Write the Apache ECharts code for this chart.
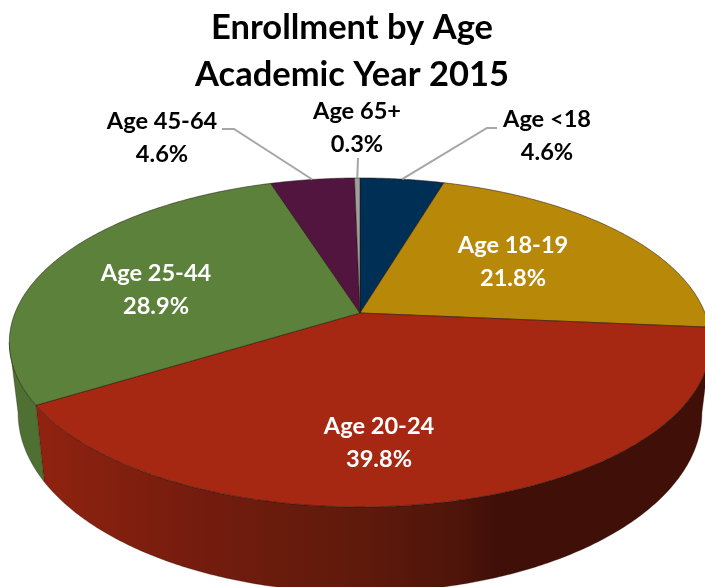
<!DOCTYPE html>
<html>
<head>
<meta charset="utf-8">
<style>html,body{margin:0;padding:0;background:#fff}#c{width:705px;height:587px}</style>
<script src="https://cdn.jsdelivr.net/npm/echarts@6/dist/echarts.min.js"></script>
</head>
<body>
<div id="c"></div>
<script>
const titleLines = ['Enrollment by Age', 'Academic Year 2015'];
const categories = ['Age <18', 'Age 18-19', 'Age 20-24', 'Age 25-44', 'Age 45-64', 'Age 65+'];
const shares = [4.6, 21.8, 39.8, 28.9, 4.6, 0.3];
const valueLabels = ['4.6%', '21.8%', '39.8%', '28.9%', '4.6%', '0.3%'];
const topColors = ['#002f56', '#b88808', '#a62813', '#5b813b', '#52153f', '#a0a0a0'];

// projection of the tilted pie
const view = { cx: 360, cy: 313, R: 345, k: 159.2, p: 0.179, lowerCy: 381, sx: 0.975, sy: 1.09 };
const labelPlaces = [
  { x: 547, y: 136, color: '#000', leader: [[497, 128], [487, 128]] },
  { x: 513, y: 262, color: '#fff' },
  { x: 379, y: 443, color: '#fff' },
  { x: 156, y: 290, color: '#fff' },
  { x: 162, y: 138, color: '#000', leader: [[222, 129], [234, 129]] },
  { x: 357, y: 128, color: '#000', leader: [[358, 158]] }
];
const sideShades = {
  2: [[0, '#90230f'], [0.245, '#741c0e'], [0.484, '#5f1a0b'], [0.634, '#4e140a'], [0.69, '#3f0f08'], [1, '#3f0f08']],
  3: [[0, '#4e7033'], [1, '#4e7033']]
};

const total = shares.reduce((a, b) => a + b, 0);
function theta(cum) { return cum / total * Math.PI * 2; }
function rim(t, lower) {
  const u = Math.sin(t), v = Math.cos(t), d = 1 + view.p * v;
  return lower
    ? [view.cx + view.R * view.sx * u / d, view.lowerCy - view.k * view.sy * v / d]
    : [view.cx + view.R * u / d, view.cy - view.k * v / d];
}
function arc(a, b, lower) {
  const n = Math.max(2, Math.ceil((b - a) / 0.01));
  const out = [];
  for (let i = 0; i <= n; i++) out.push(rim(a + (b - a) * i / n, lower));
  return out;
}
// angles at which the rim is widest: the wall's silhouette starts and ends there
const wallFrom = Math.acos(-view.p);
const wallTo = Math.PI * 2 - wallFrom;

function renderItem(params, api) {
  const i = params.dataIndex;
  const val = api.value(0);
  let before = 0;
  for (let j = 0; j < i; j++) before += shares[j];
  const a = theta(before), b = theta(before + val);
  const children = [];

  const fa = Math.max(a, wallFrom), fb = Math.min(b, wallTo);
  if (fb > fa) {
    const wall = arc(fa, fb, false).concat(arc(fa, fb, true).reverse());
    children.push({
      type: 'polygon', z2: 1,
      shape: { points: wall },
      style: {
        fill: {
          type: 'linear', global: true, x: 36, y: 0, x2: 705, y2: 0,
          colorStops: (sideShades[i] || [[0, topColors[i]], [1, topColors[i]]]).map(s => ({ offset: s[0], color: s[1] }))
        },
        stroke: 'rgba(30,10,5,0.6)', lineWidth: 0.5
      }
    });
  }

  const face = [[view.cx, view.cy]].concat(arc(a, b, false));
  children.push({
    type: 'polygon', z2: 2,
    shape: { points: face },
    style: { fill: topColors[i], stroke: 'rgba(30,20,10,0.75)', lineWidth: 0.7 }
  });

  const place = labelPlaces[i];
  if (place.leader) {
    const start = rim((a + b) / 2, false);
    children.push({
      type: 'polyline', z2: 3,
      shape: { points: [start].concat(place.leader.slice().reverse()) },
      style: { fill: null, stroke: '#a6a6a6', lineWidth: 2 }
    });
  }

  children.push({
    type: 'text', z2: 4,
    x: place.x, y: place.y,
    style: {
      text: categories[i] + '\n' + valueLabels[i],
      fill: place.color,
      font: 'bold 23.6px Lato, "Open Sans", sans-serif',
      lineHeight: 32.5,
      align: 'center', verticalAlign: 'middle'
    }
  });
  return { type: 'group', children };
}

const chart = echarts.init(document.getElementById('c'), null, { renderer: 'canvas' });
chart.setOption({
  animation: false,
  backgroundColor: '#fff',
  title: {
    text: titleLines.join('\n'),
    left: 347, top: -1, textAlign: 'center',
    textStyle: { fontFamily: 'Lato, "Open Sans", sans-serif', fontWeight: 'bold', fontSize: 34.5, lineHeight: 47, color: '#000' }
  },
  series: [{
    type: 'custom',
    coordinateSystem: 'none',
    renderItem,
    data: shares.map((v, i) => ({ name: categories[i], value: [v] })),
    silent: true
  }]
});
</script>
</body>
</html>
